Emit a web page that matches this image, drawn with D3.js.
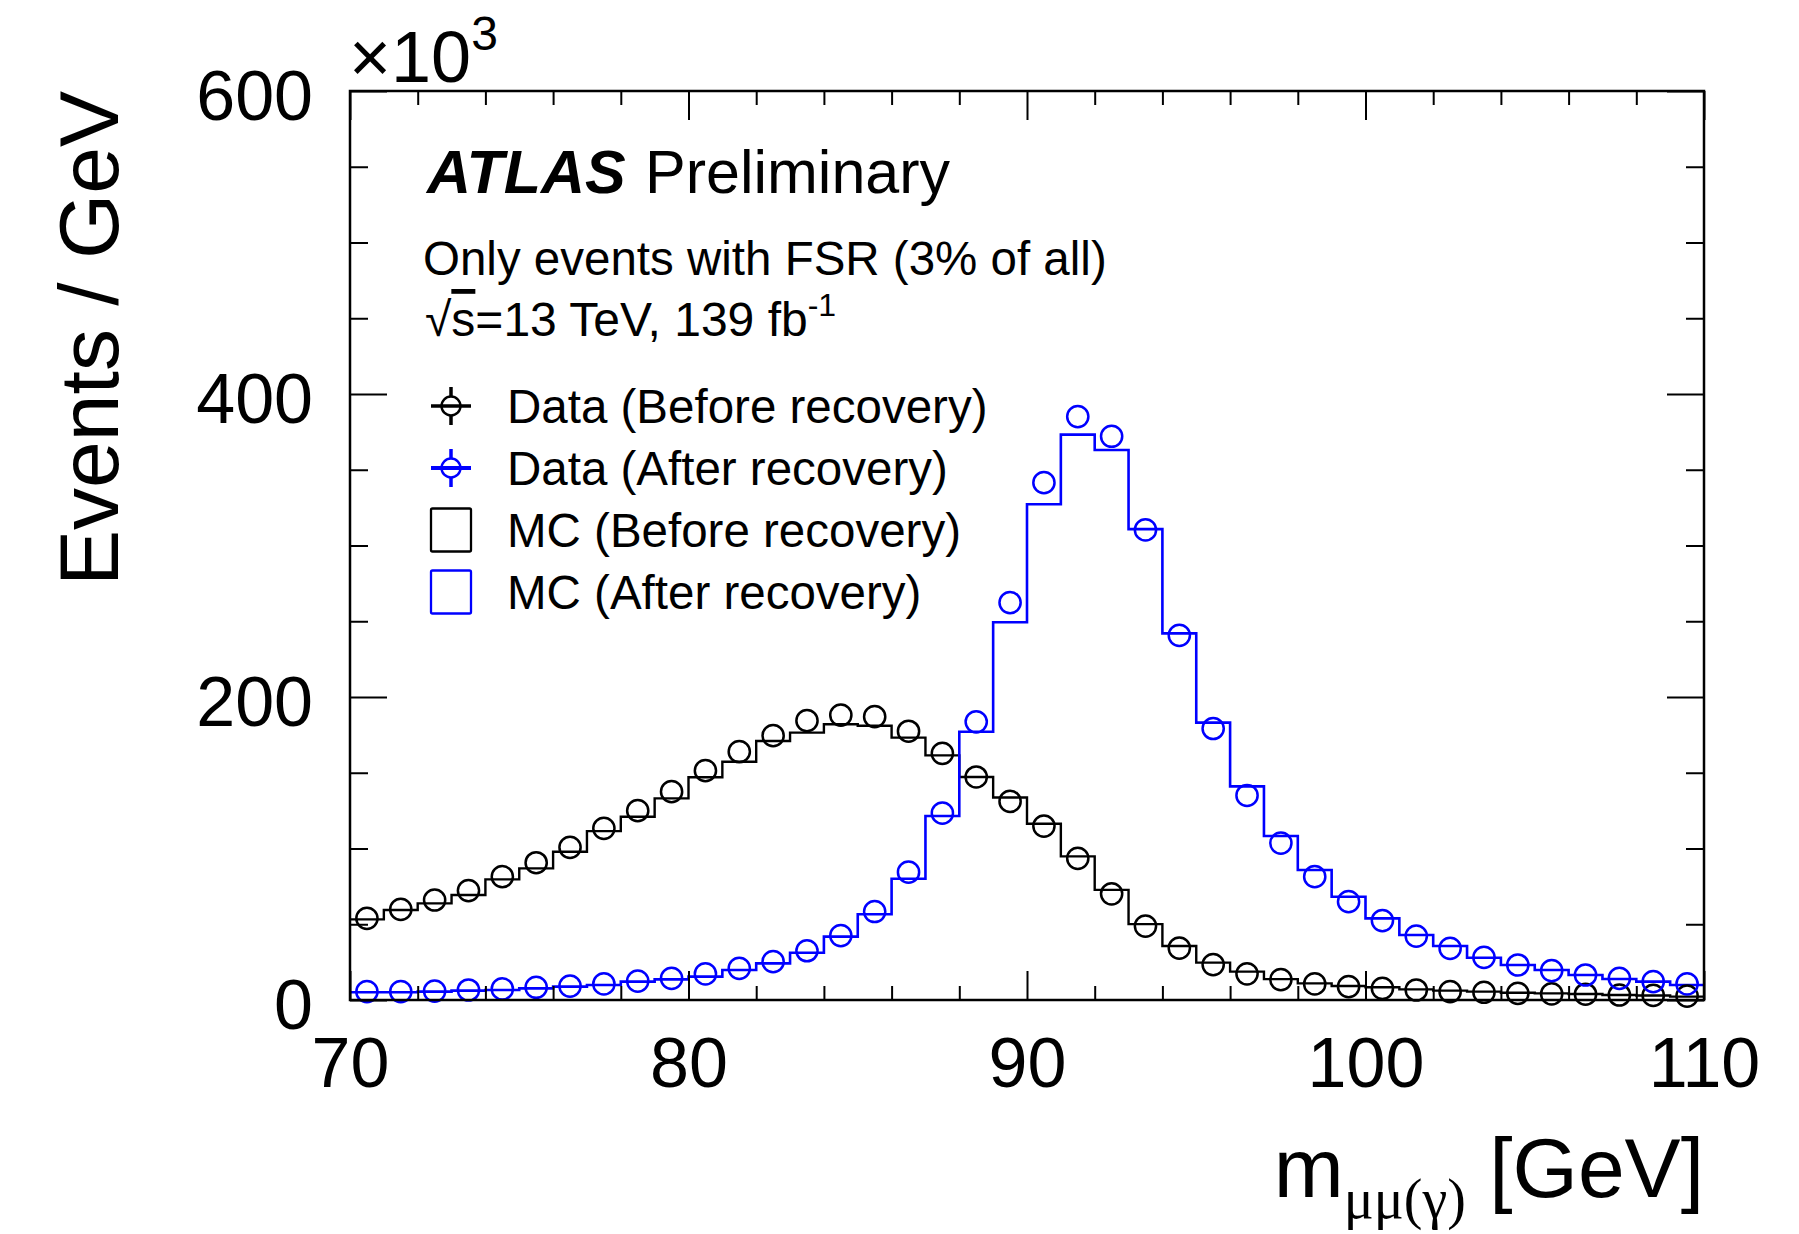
<!DOCTYPE html>
<html>
<head>
<meta charset="utf-8">
<script src="https://cdn.jsdelivr.net/npm/d3@7"></script>
<style>
  html, body { margin: 0; padding: 0; background: #fff; }
  svg { display: block; }
  text { font-family: "Liberation Sans", Arial, Helvetica, sans-serif; fill: #000; }
</style>
</head>
<body>
<svg id="chart" width="1799" height="1234"></svg>
<script>
// Lower edges of the 1 GeV bins, 70-110 GeV
const binLow = [70,71,72,73,74,75,76,77,78,79,80,81,82,83,84,85,86,87,88,89,
                90,91,92,93,94,95,96,97,98,99,100,101,102,103,104,105,106,107,108,109];

// Events / GeV in units of 10^3
const dataBefore = [53.9,59.8,66.0,72.2,81.4,90.6,100.8,113.3,125.0,137.5,
                    151.4,163.9,174.5,184.4,188.1,187.0,177.4,162.8,147.2,131.1,
                    114.8,93.5,70.1,48.8,34.3,23.4,17.3,13.5,10.6,8.8,
                    7.7,6.6,5.5,5.1,4.4,4.0,3.8,3.3,3.0,2.6];
const dataAfter  = [5.5,5.5,5.9,6.6,7.3,8.4,9.2,10.6,12.5,14.3,
                    17.2,20.9,25.3,32.5,42.5,58.4,84.4,123.3,183.6,262.3,
                    341.5,385.1,372.1,310.3,240.7,179.2,135.0,103.6,81.4,64.9,
                    52.4,42.2,34.1,28.2,23.1,19.4,16.5,14.3,12.1,10.6];
const mcBefore   = [53.2,59.4,63.8,69.3,79.6,86.9,97.9,111.5,121.0,133.1,
                    147.0,157.3,171.0,176.5,182.0,181.0,173.2,161.5,147.2,133.7,
                    116.3,94.8,72.7,50.1,35.6,24.7,18.7,13.8,11.0,9.2,
                    8.4,7.0,6.2,5.5,4.8,4.4,4.0,3.3,3.0,2.2];
const mcAfter    = [5.1,5.1,5.5,6.2,6.6,7.7,8.8,9.9,12.1,13.6,
                    15.4,19.8,24.2,31.2,41.8,56.6,80.0,121.5,177.1,249.3,
                    327.2,373.2,363.0,310.8,242.0,183.1,141.0,108.3,85.8,68.2,
                    53.9,42.9,35.6,27.9,23.1,19.8,16.5,13.9,12.1,9.9];

const xTickLabels = [70, 80, 90, 100, 110];
const yTickLabels = [0, 200, 400, 600];

const legendLabels = ["Data (Before recovery)", "Data (After recovery)",
                      "MC (Before recovery)", "MC (After recovery)"];

const BLUE = "#0000ff";
const FONT = '"Liberation Sans", Arial, Helvetica, sans-serif';

const frame = { left: 350, right: 1704, top: 91, bottom: 1000 };
const svg = d3.select("#chart");

const x = d3.scaleLinear().domain([70, 110]).range([frame.left, frame.right]);
const y = d3.scaleLinear().domain([0, 600]).range([frame.bottom, frame.top]);

const xMinor = d3.range(70, 111, 2).filter(v => v % 10 !== 0);
const yMinor = d3.range(0, 601, 50).filter(v => v % 200 !== 0);

// ---- histograms (step lines) ----
const stepLine = d3.line()
  .x(d => x(d[0]))
  .y(d => y(d[1]))
  .curve(d3.curveStepAfter);

function stepPoints(vals) {
  const pts = binLow.map((b, i) => [b, vals[i]]);
  pts.push([binLow[binLow.length - 1] + 1, vals[vals.length - 1]]);
  return pts;
}

const plot = svg.append("g");
plot.append("path")
  .attr("d", stepLine(stepPoints(mcBefore)))
  .attr("fill", "none").attr("stroke", "#000").attr("stroke-width", 2.4);
plot.append("path")
  .attr("d", stepLine(stepPoints(mcAfter)))
  .attr("fill", "none").attr("stroke", BLUE).attr("stroke-width", 2.6);

// ---- data points (open circles at bin centres) ----
function drawPoints(vals, color) {
  plot.append("g").selectAll("circle")
    .data(vals)
    .join("circle")
    .attr("cx", (d, i) => x(binLow[i] + 0.5))
    .attr("cy", d => y(d))
    .attr("r", 10.6)
    .attr("fill", "none")
    .attr("stroke", color)
    .attr("stroke-width", 2.5);
}
drawPoints(dataBefore, "#000");
drawPoints(dataAfter, BLUE);

// ---- axes ----
function styleAxis(g) {
  g.select(".domain").remove();
  g.selectAll(".tick line").attr("stroke", "#000").attr("stroke-width", 2);
  g.selectAll(".tick text").attr("font-family", FONT).attr("font-size", 70).attr("fill", "#000");
}

svg.append("g")
  .attr("transform", `translate(0,${frame.bottom})`)
  .call(d3.axisBottom(x).tickValues(xTickLabels).tickSize(-29).tickPadding(37).tickFormat(d3.format("d")))
  .call(styleAxis)
  .call(g => g.selectAll(".tick text").attr("dy", "0.71em"));
svg.append("g")
  .attr("transform", `translate(0,${frame.bottom})`)
  .call(d3.axisBottom(x).tickValues(xMinor).tickSize(-14).tickFormat(""))
  .call(styleAxis);
svg.append("g")
  .attr("transform", `translate(0,${frame.top})`)
  .call(d3.axisTop(x).tickValues(xTickLabels).tickSize(-29).tickFormat(""))
  .call(styleAxis);
svg.append("g")
  .attr("transform", `translate(0,${frame.top})`)
  .call(d3.axisTop(x).tickValues(xMinor).tickSize(-14).tickFormat(""))
  .call(styleAxis);

svg.append("g")
  .attr("transform", `translate(${frame.left},0)`)
  .call(d3.axisLeft(y).tickValues(yTickLabels).tickSize(-37).tickPadding(37).tickFormat(d3.format("d")))
  .call(styleAxis)
  .call(g => g.selectAll(".tick text").attr("dy", "0.4em"));
svg.append("g")
  .attr("transform", `translate(${frame.left},0)`)
  .call(d3.axisLeft(y).tickValues(yMinor).tickSize(-18).tickFormat(""))
  .call(styleAxis);
svg.append("g")
  .attr("transform", `translate(${frame.right},0)`)
  .call(d3.axisRight(y).tickValues(yTickLabels).tickSize(-37).tickFormat(""))
  .call(styleAxis);
svg.append("g")
  .attr("transform", `translate(${frame.right},0)`)
  .call(d3.axisRight(y).tickValues(yMinor).tickSize(-18).tickFormat(""))
  .call(styleAxis);

// frame
svg.append("rect")
  .attr("x", frame.left).attr("y", frame.top)
  .attr("width", frame.right - frame.left).attr("height", frame.bottom - frame.top)
  .attr("fill", "none").attr("stroke", "#000").attr("stroke-width", 2.5);

// ---- multiplier ×10^3 ----
const mult = svg.append("text").attr("x", 349).attr("y", 82).attr("font-size", 72);
mult.append("tspan").text("×10");
mult.append("tspan").attr("font-size", 48).attr("dy", -32).text("3");

// ---- axis titles ----
svg.append("text")
  .attr("transform", `translate(118,${frame.top}) rotate(-90)`)
  .attr("text-anchor", "end")
  .attr("font-size", 84)
  .text("Events / GeV");

const xt = svg.append("text")
  .attr("x", frame.right).attr("y", 1197)
  .attr("text-anchor", "end")
  .attr("font-size", 84);
xt.append("tspan").text("m");
xt.append("tspan")
  .attr("font-family", '"Liberation Serif", "DejaVu Serif", serif')
  .attr("font-size", 56).attr("dy", 21)
  .text("μμ(γ)");
xt.append("tspan").attr("dy", -21).text(" [GeV]");

// ---- ATLAS label and annotations ----
svg.append("text")
  .attr("x", 427).attr("y", 193)
  .attr("font-size", 61).attr("font-weight", "bold").attr("font-style", "italic")
  .text("ATLAS");
svg.append("text")
  .attr("x", 645).attr("y", 193)
  .attr("font-size", 61)
  .text("Preliminary");

svg.append("text")
  .attr("x", 423).attr("y", 275)
  .attr("font-size", 47.5)
  .text("Only events with FSR (3% of all)");

const lumi = svg.append("text").attr("x", 425).attr("y", 336).attr("font-size", 48);
lumi.append("tspan").text("√");
lumi.append("tspan").style("text-decoration", "overline").text("s");
lumi.append("tspan").text("=13 TeV, 139 fb");
lumi.append("tspan").attr("font-size", 32).attr("dy", -20).text("-1");

// ---- legend ----
const legRows = [406, 468, 530, 592];
const legX = 451;
const leg = svg.append("g");

function legendPoint(cy, color, hw) {
  const g = leg.append("g").attr("transform", `translate(${legX},${cy})`);
  g.append("line").attr("x1", -20).attr("x2", 20).attr("y1", 0).attr("y2", 0)
    .attr("stroke", color).attr("stroke-width", hw);
  g.append("line").attr("x1", 0).attr("x2", 0).attr("y1", -19).attr("y2", -9)
    .attr("stroke", color).attr("stroke-width", 3.5);
  g.append("line").attr("x1", 0).attr("x2", 0).attr("y1", 9).attr("y2", 19)
    .attr("stroke", color).attr("stroke-width", 3.5);
  g.append("circle").attr("r", 9.5).attr("fill", "none")
    .attr("stroke", color).attr("stroke-width", 2.4);
}
legendPoint(legRows[0], "#000", 3.5);
legendPoint(legRows[1], BLUE, 4);

function legendBox(cy, color) {
  leg.append("rect")
    .attr("x", legX - 20).attr("y", cy - 21.5)
    .attr("width", 40).attr("height", 43)
    .attr("rx", 1.5)
    .attr("fill", "none").attr("stroke", color).attr("stroke-width", 2.3);
}
legendBox(legRows[2], "#000");
legendBox(legRows[3], BLUE);

leg.selectAll("text.leg")
  .data(legendLabels)
  .join("text")
  .attr("class", "leg")
  .attr("x", 507)
  .attr("y", (d, i) => legRows[i] + 17)
  .attr("font-size", 47.5)
  .text(d => d);
</script>
</body>
</html>
